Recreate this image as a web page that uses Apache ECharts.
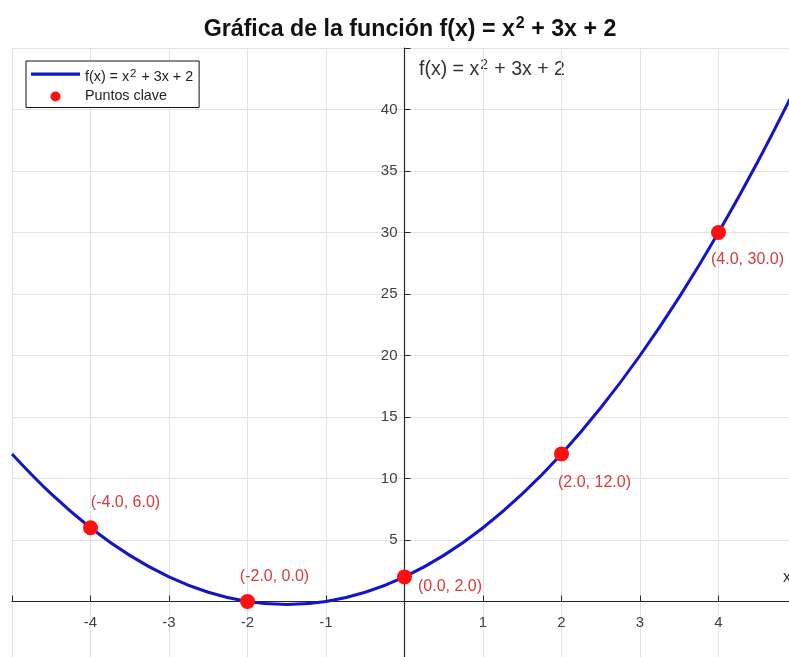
<!DOCTYPE html>
<html>
<head>
<meta charset="utf-8">
<script src="https://cdn.jsdelivr.net/npm/echarts@6/dist/echarts.min.js"></script>
<style>
html,body{margin:0;padding:0;background:#fff;}
#chart{width:789px;height:657px;}
</style>
</head>
<body>
<div id="chart"></div>
<script>
// ---- data ----
const curveX = [-5, -4.5, -4, -3.5, -3, -2.5, -2, -1.5, -1, -0.5, 0, 0.5, 1, 1.5, 2, 2.5, 3, 3.5, 4, 4.5, 5];
const curveY = [12, 8.75, 6, 3.75, 2, 0.75, 0, -0.25, 0, 0.75, 2, 3.75, 6, 8.75, 12, 15.75, 20, 24.75, 30, 35.75, 42];
const keyX = [-4, -2, 0, 2, 4];
const keyY = [6, 0, 2, 12, 30];
const xTickLabels = ['-4', '-3', '-2', '-1', '1', '2', '3', '4'];
const yTickLabels = ['5', '10', '15', '20', '25', '30', '35', '40'];
const lineName = 'f(x) = x² + 3x + 2';
const pointsName = 'Puntos clave';

// ---- chart ----
const FONT = 'Liberation Sans, Arial, sans-serif';
const X_MIN = -5, X_MAX = 5, Y_MIN = -5, Y_MAX = 45;
const GRID = {left: 12, top: 48, width: 785, height: 615};
// place the axes through the origin
const xAxisOffset = -GRID.height * (0 - Y_MIN) / (Y_MAX - Y_MIN);
const yAxisOffset = -GRID.width * (0 - X_MIN) / (X_MAX - X_MIN);

const labelPlacement = [
  {position: 'top', offset: [35, -5]},
  {position: 'top', offset: [27, -4]},
  {position: 'right', offset: [1, 10]},
  {position: 'bottom', offset: [33, 8]},
  {position: 'bottom', offset: [29, 7]}
];

const chart = echarts.init(document.getElementById('chart'), null, {renderer: 'canvas'});
const option = {
  animation: false,
  backgroundColor: '#ffffff',
  textStyle: {fontFamily: FONT},
  title: {
    text: '{a|Gráfica de la función f(x) = x}{s|2}{a| + 3x + 2}',
    left: 405,
    textAlign: 'center',
    top: 11,
    textStyle: {
      fontFamily: FONT,
      rich: {
        a: {fontSize: 23.2, fontWeight: 'bold', color: '#111', fontFamily: FONT},
        s: {fontSize: 16, fontWeight: 'bold', color: '#111', fontFamily: FONT, verticalAlign: 'bottom', padding: [0, 0, 11, 1]}
      }
    }
  },
  legend: {
    orient: 'vertical',
    left: 26,
    top: 61,
    padding: [7, 6, 4, 5],
    itemGap: 5,
    itemWidth: 49,
    itemHeight: 10,
    backgroundColor: '#fff',
    borderColor: '#111',
    borderWidth: 1,
    borderRadius: 0,
    data: [
      {name: lineName, icon: 'path://M0,0 L50,0 L50,3.2 L0,3.2 Z M0,10.2 L0.01,10.2 Z'},
      {name: pointsName, icon: 'circle'}
    ],
    formatter: function (name) {
      if (name === lineName) return '{t|f(x) = x}{s|2}{t| + 3x + 2}';
      return '{t|' + name + '}';
    },
    textStyle: {
      rich: {
        t: {fontSize: 14.3, color: '#222', fontFamily: FONT},
        s: {fontSize: 11.5, color: '#222', fontFamily: FONT, verticalAlign: 'bottom', padding: [0, 1, 7, 1]}
      }
    }
  },
  grid: Object.assign({containLabel: false, outerBoundsMode: 'none'}, GRID),
  xAxis: {
    type: 'value', min: X_MIN, max: X_MAX, interval: 1,
    offset: xAxisOffset,
    axisLine: {show: true, onZero: false, lineStyle: {color: '#262626', width: 1.2}},
    axisTick: {show: true, inside: true, length: 6, lineStyle: {color: '#262626'}},
    axisLabel: {
      margin: 14, fontSize: 15, color: '#404040', fontFamily: FONT,
      formatter: function (v) { const s = String(v); return xTickLabels.indexOf(s) >= 0 ? s : ''; }
    },
    splitLine: {show: true, lineStyle: {color: '#e2e2e2', width: 1}},
    name: 'x',
    nameLocation: 'end',
    nameGap: -14,
    nameTextStyle: {fontSize: 16, color: '#333', align: 'left', verticalAlign: 'bottom', padding: [0, 0, 16, 0]}
  },
  yAxis: {
    type: 'value', min: Y_MIN, max: Y_MAX, interval: 5,
    offset: yAxisOffset,
    axisLine: {show: true, onZero: false, lineStyle: {color: '#262626', width: 1.2}},
    axisTick: {show: true, inside: true, length: 6, lineStyle: {color: '#262626'}},
    axisLabel: {
      margin: 7, fontSize: 15, color: '#404040', fontFamily: FONT, padding: [6, 0, 0, 0],
      formatter: function (v) { const s = String(v); return yTickLabels.indexOf(s) >= 0 ? s : ''; }
    },
    splitLine: {show: true, lineStyle: {color: '#e2e2e2', width: 1}}
  },
  graphic: [{
    type: 'text',
    left: 419,
    top: 58,
    style: {
      text: '{t|f(x) = x}{s|2}{t| + 3x + 2}',
      rich: {
        t: {fontSize: 19.5, fill: '#333', fontFamily: FONT},
        s: {fontSize: 14, fill: '#333', fontFamily: FONT, verticalAlign: 'bottom', padding: [0, 1, 10, 1]}
      }
    }
  }],
  series: [
    {
      name: lineName,
      type: 'line',
      data: curveX.map((x, i) => [x, curveY[i]]),
      smooth: 0.4,
      symbol: 'none',
      lineStyle: {color: '#1414c8', width: 3},
      itemStyle: {color: '#1414c8'},
      z: 2
    },
    {
      name: pointsName,
      type: 'scatter',
      symbol: 'circle',
      symbolSize: 15,
      itemStyle: {color: '#ff0f0f', opacity: 1},
      data: keyX.map((x, i) => ({
        value: [x, keyY[i]],
        label: Object.assign({show: true}, labelPlacement[i])
      })),
      label: {
        show: true,
        fontSize: 16,
        color: '#d83a3a',
        fontFamily: FONT,
        distance: 5,
        formatter: function (p) { return '(' + p.value[0].toFixed(1) + ', ' + p.value[1].toFixed(1) + ')'; }
      },
      z: 3
    }
  ]
};
chart.setOption(option);
</script>
</body>
</html>
